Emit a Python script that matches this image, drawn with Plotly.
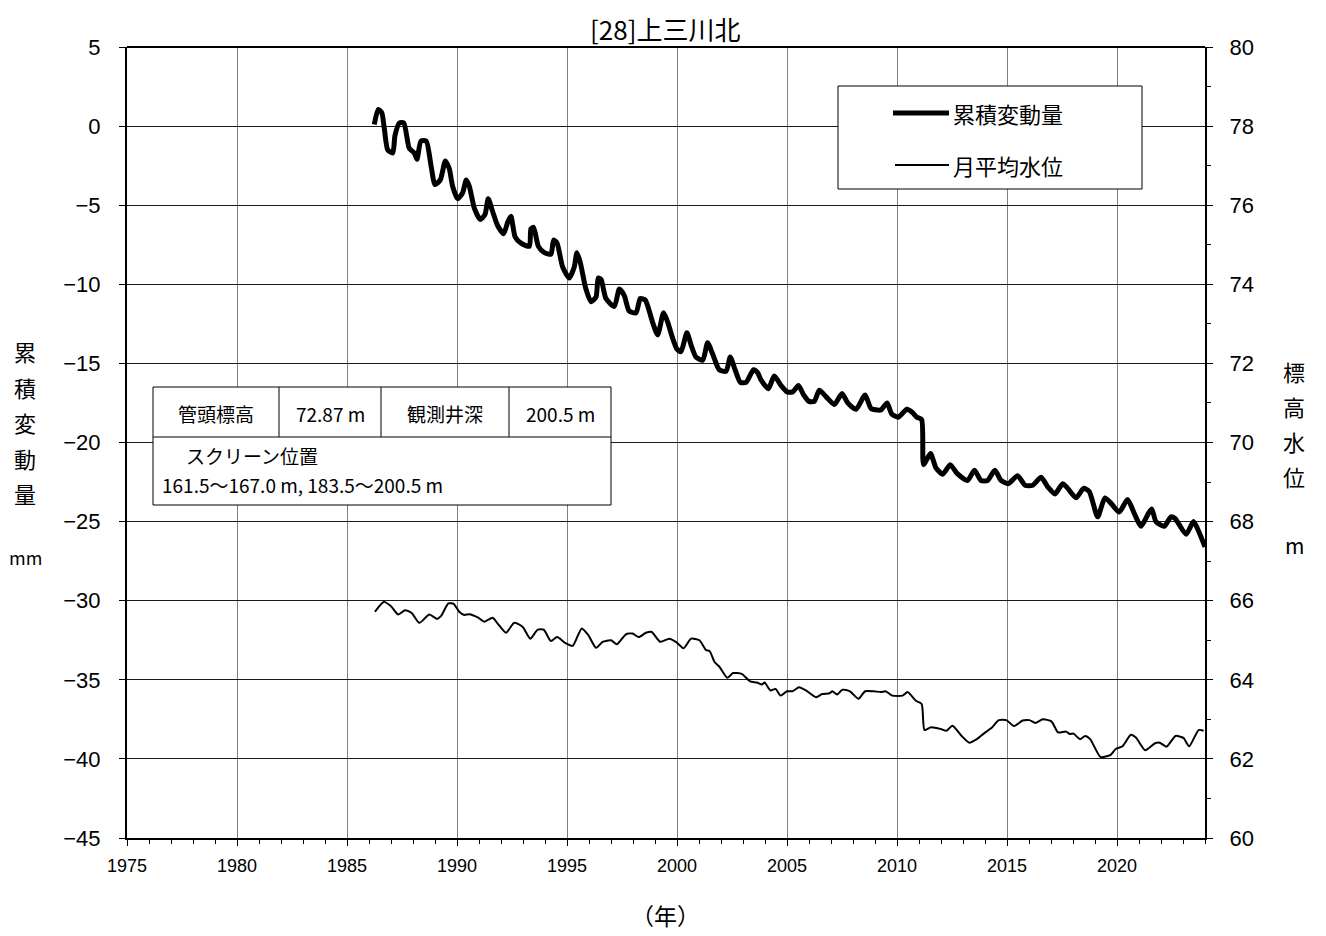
import plotly.graph_objects as go

# 累積変動量 (mm) — left axis
cum_year = [1986.24, 1986.42, 1986.58, 1986.70, 1986.85, 1987.08, 1987.18, 1987.38, 1987.58, 1987.83,
            1988.06, 1988.18, 1988.36, 1988.60, 1988.82, 1989.00, 1989.24, 1989.47, 1989.65, 1989.80,
            1990.03, 1990.26, 1990.42, 1990.56, 1990.79, 1991.06, 1991.27, 1991.42, 1991.62, 1991.85,
            1992.12, 1992.30, 1992.45, 1992.64, 1992.91, 1993.29, 1993.36, 1993.48, 1993.70, 1993.97,
            1994.27, 1994.39, 1994.55, 1994.80, 1995.10, 1995.33, 1995.45, 1995.60, 1995.86, 1996.09,
            1996.32, 1996.42, 1996.55, 1996.77, 1997.15, 1997.38, 1997.60, 1997.83, 1998.14, 1998.33,
            1998.56, 1998.89, 1999.12, 1999.39, 1999.58, 1999.80, 2000.00, 2000.18, 2000.45, 2000.64,
            2000.86, 2001.17, 2001.39, 2001.62, 2001.92, 2002.23, 2002.42, 2002.64, 2002.88, 2003.14,
            2003.48, 2003.67, 2003.82, 2004.15, 2004.42, 2004.73, 2005.00, 2005.26, 2005.52, 2005.76,
            2006.00, 2006.24, 2006.47, 2006.77, 2007.15, 2007.50, 2007.76, 2008.14, 2008.55, 2008.82,
            2009.12, 2009.27, 2009.55, 2009.76, 2010.06, 2010.45, 2010.70, 2010.90, 2011.12, 2011.21,
            2011.52, 2011.77, 2012.08, 2012.42, 2012.73, 2013.21, 2013.52, 2013.82, 2014.12, 2014.45,
            2014.73, 2015.06, 2015.48, 2015.82, 2016.17, 2016.55, 2016.85, 2017.18, 2017.53, 2017.76,
            2018.14, 2018.48, 2018.74, 2019.12, 2019.45, 2019.73, 2020.10, 2020.48, 2020.79, 2021.09,
            2021.42, 2021.58, 2021.77, 2022.15, 2022.45, 2022.64, 2023.14, 2023.48, 2023.74, 2024.00]
cum_mm = [0.1, 1.05, 0.85, -0.2, -1.5, -1.7, -0.6, 0.2, 0.2, -1.4,
          -1.7, -2.1, -0.95, -0.95, -2.5, -3.7, -3.4, -2.2, -2.7, -3.8,
          -4.6, -4.2, -3.4, -3.8, -5.2, -5.9, -5.6, -4.6, -5.4, -6.3,
          -6.8, -6.1, -5.7, -7.0, -7.4, -7.6, -6.5, -6.4, -7.6, -8.0,
          -8.1, -7.2, -7.4, -8.9, -9.6, -8.9, -8.0, -8.6, -10.3, -11.1,
          -10.8, -9.6, -9.7, -10.9, -11.4, -10.3, -10.7, -11.7, -11.8, -10.9,
          -11.0, -12.4, -13.2, -11.8, -12.4, -13.4, -14.1, -14.26, -13.06, -13.84,
          -14.6, -14.8, -13.7, -14.4, -15.4, -15.5, -14.6, -15.4, -16.2, -16.2,
          -15.4, -15.6, -16.05, -16.6, -15.8, -16.4, -16.8, -16.8, -16.4, -17.0,
          -17.4, -17.4, -16.7, -17.1, -17.6, -16.9, -17.5, -17.9, -17.0, -17.85,
          -17.95, -17.95, -17.5, -18.2, -18.4, -17.9, -18.1, -18.4, -18.55, -21.4,
          -20.7, -21.6, -22.0, -21.4, -21.95, -22.4, -21.75, -22.4, -22.4, -21.75,
          -22.4, -22.6, -22.1, -22.7, -22.7, -22.2, -22.8, -23.25, -22.6, -22.9,
          -23.5, -22.9, -23.1, -24.7, -23.5, -23.85, -24.4, -23.6, -24.5, -25.3,
          -24.5, -24.2, -25.0, -25.3, -24.7, -24.8, -25.8, -25.0, -25.7, -26.6]

# 月平均水位 (m) — right axis
wl_year = [1986.27, 1986.67, 1987.00, 1987.33, 1987.64, 1987.94, 1988.29, 1988.74, 1989.09, 1989.27,
           1989.61, 1989.85, 1990.10, 1990.33, 1990.56, 1990.94, 1991.24, 1991.62, 1991.85, 1992.23,
           1992.60, 1992.98, 1993.33, 1993.67, 1993.94, 1994.27, 1994.55, 1994.95, 1995.26, 1995.67,
           1995.97, 1996.32, 1996.62, 1997.00, 1997.27, 1997.68, 1997.98, 1998.26, 1998.59, 1998.85,
           1999.24, 1999.65, 1999.95, 2000.30, 2000.64, 2001.02, 2001.32, 2001.48, 2001.71, 2001.94,
           2002.29, 2002.55, 2002.94, 2003.32, 2003.63, 2003.86, 2003.98, 2004.25, 2004.48, 2004.71,
           2005.00, 2005.25, 2005.55, 2005.86, 2006.32, 2006.60, 2006.94, 2007.06, 2007.28, 2007.52,
           2007.86, 2008.25, 2008.55, 2008.94, 2009.28, 2009.48, 2009.78, 2010.25, 2010.48, 2010.86,
           2011.12, 2011.25, 2011.55, 2012.02, 2012.25, 2012.52, 2012.94, 2013.28, 2013.63, 2013.94,
           2014.29, 2014.63, 2014.97, 2015.32, 2015.71, 2016.02, 2016.29, 2016.63, 2017.02, 2017.32,
           2017.68, 2017.86, 2018.02, 2018.32, 2018.55, 2018.78, 2019.25, 2019.71, 2019.94, 2020.25,
           2020.63, 2020.86, 2021.28, 2021.71, 2021.94, 2022.25, 2022.66, 2023.02, 2023.28, 2023.71,
           2023.94]
wl_m = [65.72, 65.97, 65.86, 65.65, 65.76, 65.69, 65.44, 65.65, 65.54, 65.61,
        65.93, 65.92, 65.72, 65.64, 65.66, 65.58, 65.47, 65.57, 65.42, 65.19,
        65.44, 65.34, 65.04, 65.27, 65.27, 64.98, 65.08, 64.92, 64.86, 65.30,
        65.13, 64.81, 64.96, 65.00, 64.90, 65.15, 65.17, 65.08, 65.19, 65.21,
        64.96, 65.04, 64.96, 64.80, 65.04, 65.00, 64.75, 64.73, 64.45, 64.32,
        64.05, 64.17, 64.15, 63.96, 63.93, 63.88, 63.93, 63.73, 63.77, 63.60,
        63.71, 63.71, 63.81, 63.73, 63.56, 63.64, 63.66, 63.71, 63.63, 63.75,
        63.71, 63.52, 63.71, 63.71, 63.69, 63.71, 63.60, 63.60, 63.69, 63.47,
        63.39, 62.73, 62.80, 62.75, 62.71, 62.84, 62.58, 62.41, 62.50, 62.64,
        62.78, 62.98, 62.98, 62.83, 62.97, 62.98, 62.91, 63.00, 62.95, 62.67,
        62.69, 62.63, 62.64, 62.50, 62.58, 62.50, 62.05, 62.10, 62.25, 62.32,
        62.61, 62.54, 62.22, 62.39, 62.41, 62.31, 62.58, 62.53, 62.32, 62.73,
        62.71]

x_ticks = [1975, 1980, 1985, 1990, 1995, 2000, 2005, 2010, 2015, 2020]
title_text = "[28]上三川北"
legend_names = ["累積変動量", "月平均水位"]
info_top = ["管頭標高", "72.87 m", "観測井深", "200.5 m"]
info_screen = ["スクリーン位置", "161.5～167.0 m, 183.5～200.5 m"]
left_title = ["累", "積", "変", "動", "量"]
right_title = ["標", "高", "水", "位"]

JP = "Noto Sans CJK JP"
NUM = "Liberation Sans"

fig = go.Figure()
fig.add_trace(go.Scatter(x=cum_year, y=cum_mm, mode="lines", name=legend_names[0],
                         line=dict(color="black", width=5, shape="spline", smoothing=0.6),
                         yaxis="y", showlegend=False))
fig.add_trace(go.Scatter(x=wl_year, y=wl_m, mode="lines", name=legend_names[1],
                         line=dict(color="black", width=2, shape="spline", smoothing=0.6),
                         yaxis="y2", showlegend=False))

# page offset (browser body margin)
OFF = 8
W, H = 1326 - OFF, 936 - OFF
L, R, T, B = 127, 1205, 47, 838   # plot area in page pixels
pw, ph = R - L, B - T


def px(xp):
    return (xp - L) / pw


def py(yp):
    return (B - yp) / ph


shapes = []
annotations = []

# legend box
shapes.append(dict(type="rect", xref="paper", yref="paper", x0=px(838), x1=px(1142), y0=py(189), y1=py(86),
                   line=dict(color="black", width=1), fillcolor="white", layer="above"))
shapes.append(dict(type="line", xref="paper", yref="paper", x0=px(893), x1=px(949), y0=py(113), y1=py(113),
                   line=dict(color="black", width=5), layer="above"))
shapes.append(dict(type="line", xref="paper", yref="paper", x0=px(895), x1=px(949), y0=py(165), y1=py(165),
                   line=dict(color="black", width=2), layer="above"))
annotations.append(dict(xref="paper", yref="paper", x=px(951), y=py(113), text=legend_names[0], showarrow=False,
                        xanchor="left", yanchor="middle", font=dict(family=JP, size=22, color="black")))
annotations.append(dict(xref="paper", yref="paper", x=px(951), y=py(165), text=legend_names[1], showarrow=False,
                        xanchor="left", yanchor="middle", font=dict(family=JP, size=22, color="black")))

# info table
shapes.append(dict(type="rect", xref="paper", yref="paper", x0=px(153), x1=px(611), y0=py(505), y1=py(387),
                   line=dict(color="black", width=1), fillcolor="white", layer="above"))
shapes.append(dict(type="line", xref="paper", yref="paper", x0=px(153), x1=px(611), y0=py(437), y1=py(437),
                   line=dict(color="black", width=1), layer="above"))
for cx in [279, 381, 509]:
    shapes.append(dict(type="line", xref="paper", yref="paper", x0=px(cx), x1=px(cx), y0=py(437), y1=py(387),
                       line=dict(color="black", width=1), layer="above"))
for txt, cx in zip(info_top, [216, 330, 445, 560]):
    annotations.append(dict(xref="paper", yref="paper", x=px(cx), y=py(413), text=txt, showarrow=False,
                            xanchor="center", yanchor="middle", font=dict(family=JP, size=19, color="black")))
annotations.append(dict(xref="paper", yref="paper", x=px(184), y=py(456), text=info_screen[0], showarrow=False,
                        xanchor="left", yanchor="middle", font=dict(family=JP, size=19, color="black")))
annotations.append(dict(xref="paper", yref="paper", x=px(160), y=py(484), text=info_screen[1], showarrow=False,
                        xanchor="left", yanchor="middle", font=dict(family=JP, size=19, color="black")))

# title
annotations.append(dict(xref="paper", yref="paper", x=px(665), y=py(28), text=title_text, showarrow=False,
                        xanchor="center", yanchor="middle", borderpad=0,
                        font=dict(family=JP, size=26, color="black")))
# x title
annotations.append(dict(xref="paper", yref="paper", x=px(665), y=py(915), text="（年）", showarrow=False,
                        xanchor="center", yanchor="middle", font=dict(family=JP, size=23, color="black")))
# left axis title
for i, ch in enumerate(left_title):
    annotations.append(dict(xref="paper", yref="paper", x=px(25), y=py(351 + 35.5 * i), text=ch, showarrow=False,
                            xanchor="center", yanchor="middle", font=dict(family=JP, size=22, color="black")))
annotations.append(dict(xref="paper", yref="paper", x=px(25), y=py(557), text="mm", showarrow=False,
                        xanchor="center", yanchor="middle", font=dict(family=JP, size=18, color="black")))
for i, ch in enumerate(right_title):
    annotations.append(dict(xref="paper", yref="paper", x=px(1294), y=py(371 + 35 * i), text=ch, showarrow=False,
                            xanchor="center", yanchor="middle", font=dict(family=JP, size=22, color="black")))
annotations.append(dict(xref="paper", yref="paper", x=px(1294), y=py(545), text="m", showarrow=False,
                        xanchor="center", yanchor="middle", font=dict(family=JP, size=21, color="black")))

fig.update_layout(
    width=W, height=H,
    margin=dict(l=L - OFF, r=W - (R - OFF), t=T - OFF, b=H - (B - OFF), pad=0),
    plot_bgcolor="white", paper_bgcolor="white",
    showlegend=False,
    shapes=shapes, annotations=annotations,
    xaxis=dict(range=[1975, 2024], tickvals=x_ticks, ticktext=[str(v) for v in x_ticks],
               showgrid=True, gridcolor="#808080", gridwidth=1,
               showline=True, linecolor="black", linewidth=2, mirror=False,
               ticks="outside", ticklen=6, tickcolor="black", tickwidth=1,
               minor=dict(dtick=1, tick0=1975, ticks="outside", ticklen=4, tickcolor="black", showgrid=False),
               ticklabelstandoff=4,
               tickfont=dict(family=NUM, size=18, color="black"), zeroline=False),
    yaxis=dict(range=[-45, 5], dtick=5, tick0=0,
               showgrid=True, gridcolor="#1a1a1a", gridwidth=1,
               showline=True, linecolor="black", linewidth=2,
               ticks="outside", ticklen=6, tickcolor="black",
               ticklabelstandoff=14,
               tickfont=dict(family=NUM, size=22, color="black"), zeroline=False),
    yaxis2=dict(range=[60, 80], dtick=2, tick0=60, overlaying="y", side="right", anchor="x",
                showgrid=False, showline=True, linecolor="black", linewidth=2,
                ticks="outside", ticklen=6, tickcolor="black",
                minor=dict(dtick=1, ticks="outside", ticklen=4, tickcolor="black", showgrid=False),
                ticklabelstandoff=12,
                tickfont=dict(family=NUM, size=22, color="black"), zeroline=False),
)
# top border line
fig.add_shape(type="line", xref="paper", yref="paper", x0=0, x1=1, y0=1, y1=1,
              line=dict(color="black", width=2))

fig.write_html("out.html")
